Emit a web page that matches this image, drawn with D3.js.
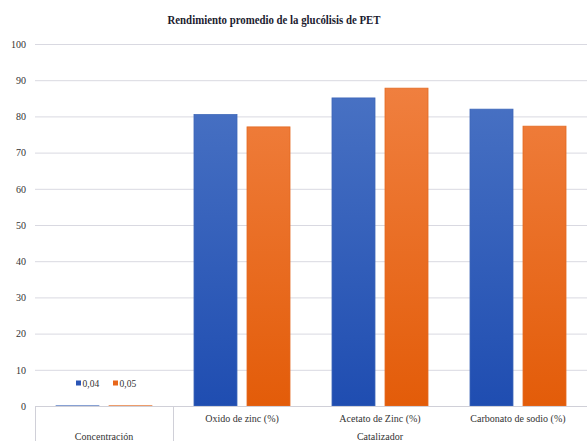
<!DOCTYPE html>
<html><head><meta charset="utf-8">
<script src="https://cdn.jsdelivr.net/npm/d3@7/dist/d3.min.js"></script>
<style>body{margin:0;background:#fff}svg{display:block}</style>
</head><body><svg id="c" width="587" height="441"></svg>
<script>
const categories = ["", "Oxido de zinc (%)", "Acetato de Zinc (%)", "Carbonato de sodio (%)"];
const outerGroups = [{label:"Concentración", span:[0,0]}, {label:"Catalizador", span:[1,3]}];
const seriesNames = ["0,04", "0,05"];
const values004 = [0.04, 80.5, 85.1, 82.0];
const values005 = [0.05, 77.1, 87.8, 77.3];
const yTicks = [0,10,20,30,40,50,60,70,80,90,100];
const title = "Rendimiento promedio de la glucólisis de PET";

const FONT = "Tinos, 'serif', 'Noto Serif', serif";
const svg = d3.select("#c").style("font-family", FONT);
const W = 587, H = 441;
const m = {left:35, right:0, top:44, bottom:35};
const x0 = d3.scaleBand().domain(d3.range(categories.length)).range([m.left, W - m.right]).padding(0);
const x1 = d3.scaleBand().domain(seriesNames).range([0, x0.bandwidth()]).paddingInner(0.1887).paddingOuter(0.396);
const y = d3.scaleLinear().domain([0,100]).range([H - m.bottom, m.top]);

const defs = svg.append("defs");
const grads = [["gB","#4a73c4","#1f4db1"],["gO","#f08040","#e35c09"]];
grads.forEach(([id,a,b])=>{
  const g = defs.append("linearGradient").attr("id",id).attr("x1",0).attr("x2",0)
    .attr("gradientUnits","userSpaceOnUse").attr("y1",y(90)).attr("y2",y(0));
  g.append("stop").attr("offset",0).attr("stop-color",a);
  g.append("stop").attr("offset",1).attr("stop-color",b);
});
const fills = {"0,04":"url(#gB)","0,05":"url(#gO)"};
const strokes = {"0,04":"#3d66b8","0,05":"#e36a22"};

// title (condensed to the reference's width)
svg.append("text").attr("x",274).attr("y",24).attr("text-anchor","middle")
  .style("font-family",FONT).attr("font-size",13.5).attr("font-weight","bold").attr("fill","#1c1c30")
  .attr("textLength",213).attr("lengthAdjust","spacingAndGlyphs").text(title);

// grid + y axis
const yAxis = d3.axisLeft(y).tickValues(yTicks).tickSize(-(W - m.left - m.right)).tickPadding(9);
const ga = svg.append("g").attr("transform",`translate(${m.left},0)`).call(yAxis);
ga.attr("font-family",null);
ga.select(".domain").remove();
ga.selectAll(".tick line").attr("stroke","#d9d9e1").attr("stroke-width",1);
ga.selectAll(".tick text").style("font-family",FONT).attr("font-size",10).attr("fill","#333");

// bars
const series = [values004, values005];
const data = [];
categories.forEach((c,i)=>seriesNames.forEach((s,j)=>data.push({i, s, v: series[j][i]})));
svg.append("g").selectAll("rect").data(data).join("rect")
  .attr("x",d=>x0(d.i)+x1(d.s)).attr("width",x1.bandwidth())
  .attr("y",d=>y(d.v)).attr("height",d=>y(0)-y(d.v))
  .attr("fill",d=>fills[d.s]).attr("stroke",d=>strokes[d.s]).attr("stroke-width",0.8);

// x axis line
svg.append("line").attr("x1",m.left).attr("x2",W).attr("y1",y(0)+0.5).attr("y2",y(0)+0.5).attr("stroke","#d0d0d8");
// separators between outer groups
const seps = [m.left, x0(1)];
svg.append("g").selectAll("line").data(seps).join("line")
  .attr("x1",d=>Math.round(d)+0.5).attr("x2",d=>Math.round(d)+0.5).attr("y1",y(0)).attr("y2",H)
  .attr("stroke","#d0d0d8");
// inner labels
svg.append("g").selectAll("text").data(categories).join("text")
  .attr("x",(d,i)=>x0(i)+x0.bandwidth()/2).attr("y",y(0)+16).attr("text-anchor","middle")
  .style("font-family",FONT).attr("font-size",10).attr("fill","#333").text(d=>d);
// outer labels
svg.append("g").selectAll("text").data(outerGroups).join("text")
  .attr("x",d=>(x0(d.span[0]) + x0(d.span[1]) + x0.bandwidth())/2).attr("y",y(0)+34)
  .attr("text-anchor","middle").style("font-family",FONT).attr("font-size",10).attr("fill","#333").text(d=>d.label);

// legend
const lg = svg.append("g").attr("transform","translate(76,383)");
const legColors = {"0,04":"#2a55b5","0,05":"#e8661a"};
seriesNames.forEach((s,j)=>{
  const g = lg.append("g").attr("transform",`translate(${j*37},0)`);
  g.append("rect").attr("x",0).attr("y",-2.5).attr("width",5).attr("height",5).attr("fill",legColors[s]);
  g.append("text").attr("x",6.5).attr("y",3.5).style("font-family",FONT).attr("font-size",9.5).attr("fill","#333").text(s);
});
</script></body></html>
